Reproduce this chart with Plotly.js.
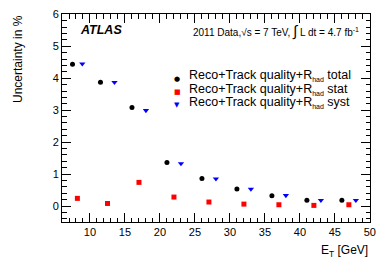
<!DOCTYPE html>
<html>
<head>
<meta charset="utf-8">
<script src="https://cdn.plot.ly/plotly-3.0.1.min.js"></script>
<style>html,body{margin:0;padding:0;background:#fff;}#chart{width:390px;height:265px;}</style>
</head>
<body>
<div id="chart"></div>
<script>
// ---- data ----
const xTotal = [7.5, 11.5, 16, 21, 26, 31, 36, 41, 46];
const yTotal = [4.44, 3.87, 3.08, 1.36, 0.86, 0.53, 0.32, 0.18, 0.18];
const xStat  = [8.2, 12.5, 17, 22, 27, 32, 37, 42, 47];
const yStat  = [0.24, 0.08, 0.74, 0.28, 0.125, 0.06, 0.04, 0.02, 0.04];
const xSyst  = [8.9, 13.5, 18, 23, 28, 33, 38, 43, 48];
const ySyst  = [4.45, 3.87, 2.99, 1.33, 0.85, 0.53, 0.33, 0.18, 0.18];
const subHad = '<sub><span style="font-size:7px">had</span></sub>';
const seriesNames = [
  'Reco+Track quality+R' + subHad + ' total',
  'Reco+Track quality+R' + subHad + ' stat',
  'Reco+Track quality+R' + subHad + ' syst'
];
const xTitle = 'E<sub>T</sub> [GeV]';
const yTitle = 'Uncertainty in %';
const labelText = '2011 Data,√s = 7 TeV, <span style="font-size:15px">∫</span> L dt = 4.7 fb<sup>-1</sup>';

// ---- layout geometry ----
const L = 62, R = 20, T = 14, B = 43;
const W = 390 - L - R, H = 265 - T - B;
const px = v => (v - L) / W;
const py = v => (T + H - v) / H;
const FONT = 'Liberation Sans, Arial, Helvetica, sans-serif';

const traces = [
  {x: xTotal, y: yTotal, name: 'total', mode: 'markers', type: 'scatter',
   marker: {symbol: 'circle', size: 5, color: '#000000'}},
  {x: xStat, y: yStat, name: 'stat', mode: 'markers', type: 'scatter',
   marker: {symbol: 'square', size: 5, color: '#ff0000'}},
  {x: xSyst, y: ySyst, name: 'syst', mode: 'markers', type: 'scatter',
   marker: {symbol: 'triangle-down', size: 5.5, color: '#0000ff'}}
];

const symbolChars = ['●', '■', '▼'];
const symbolColors = ['#000000', '#ff0000', '#0000ff'];
const rowY = [75.7, 89, 102.3];

const annotations = [
  {text: '<b><i>ATLAS</i></b>', xref: 'paper', yref: 'paper', x: px(78), y: py(30),
   xanchor: 'left', yanchor: 'middle', showarrow: false, font: {family: FONT, size: 12.5, color: '#000'}},
  {text: labelText, xref: 'paper', yref: 'paper', x: px(191), y: py(31),
   xanchor: 'left', yanchor: 'middle', showarrow: false, font: {family: FONT, size: 10, color: '#000'}},
  {text: xTitle, xref: 'paper', yref: 'paper', x: px(370), y: py(251),
   xanchor: 'right', yanchor: 'middle', showarrow: false, font: {family: FONT, size: 12, color: '#000'}},
  {text: yTitle, xref: 'paper', yref: 'paper', x: px(18), y: py(13), textangle: -90,
   xanchor: 'center', yanchor: 'top', showarrow: false, font: {family: FONT, size: 12, color: '#000'}}
];
seriesNames.forEach((n, i) => {
  annotations.push({text: n, xref: 'paper', yref: 'paper', x: px(187), y: py(rowY[i]),
    xanchor: 'left', yanchor: 'middle', showarrow: false, font: {family: FONT, size: 12.5, color: '#000'}});
  annotations.push({text: symbolChars[i], xref: 'paper', yref: 'paper', x: px(177.3), y: py(rowY[i] + 3),
    xanchor: 'center', yanchor: 'middle', showarrow: false, font: {family: 'DejaVu Sans', size: 7, color: symbolColors[i]}});
});

const layout = {
  width: 390, height: 265,
  margin: {l: L, r: R, t: T, b: B, pad: 0},
  paper_bgcolor: '#fff', plot_bgcolor: '#fff',
  showlegend: false,
  font: {family: FONT, size: 11, color: '#000'},
  xaxis: {
    range: [6, 50.02], showgrid: false, zeroline: false,
    showline: true, linecolor: '#000', linewidth: 1, mirror: 'allticks',
    ticks: 'inside', ticklen: 9, tickwidth: 1, tickcolor: '#000',
    tick0: 0, dtick: 5,
    minor: {ticks: 'inside', ticklen: 4.5, dtick: 1, tickcolor: '#000', showgrid: false},
    tickfont: {family: FONT, size: 11, color: '#000'}
  },
  yaxis: {
    range: [-0.5, 6.01], showgrid: false, zeroline: false,
    showline: true, linecolor: '#000', linewidth: 1, mirror: 'allticks',
    ticks: 'inside', ticklen: 9, tickwidth: 1, tickcolor: '#000',
    tick0: 0, dtick: 1,
    minor: {ticks: 'inside', ticklen: 4.5, dtick: 0.2, tickcolor: '#000', showgrid: false},
    tickfont: {family: FONT, size: 11, color: '#000'}
  },
  annotations: annotations
};

Plotly.newPlot('chart', traces, layout, {displayModeBar: false, staticPlot: true});
</script>
</body>
</html>
